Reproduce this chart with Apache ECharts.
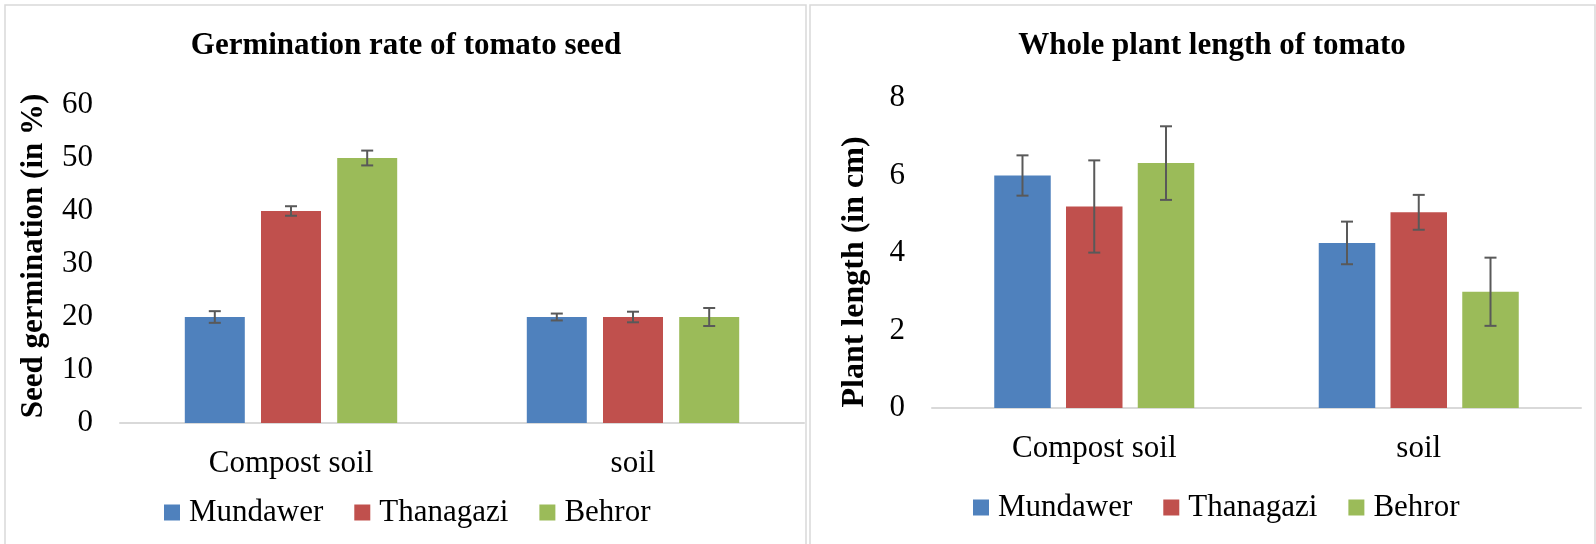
<!DOCTYPE html>
<html>
<head>
<meta charset="utf-8">
<script src="https://cdn.jsdelivr.net/npm/echarts@6/dist/echarts.min.js"></script>
<style>
  html, body { margin: 0; padding: 0; background: #fff; }
  #main { width: 1596px; height: 544px; }
</style>
</head>
<body>
<div id="main"></div>
<script>
var categories = ['Compost soil', 'soil'];
var seriesNames = ['Mundawer', 'Thanagazi', 'Behror'];
var colors = ['#4F81BD', '#C0504D', '#9BBB59'];

// germination rate (%)
var germMundawer = [20, 20];
var germThanagazi = [40, 20];
var germBehror = [50, 20];
var germErrMundawer = [1.1, 0.65];
var germErrThanagazi = [0.9, 1.0];
var germErrBehror = [1.4, 1.7];
var germTicks = { min: 0, max: 60, interval: 10 };

// whole plant length (cm)
var lenMundawer = [6.0, 4.26];
var lenThanagazi = [5.2, 5.05];
var lenBehror = [6.32, 3.0];
var lenErrMundawer = [0.52, 0.55];
var lenErrThanagazi = [1.19, 0.45];
var lenErrBehror = [0.95, 0.88];
var lenTicks = { min: 0, max: 8, interval: 2 };

var FONT = '"Liberation Serif", "Times New Roman", serif';

var chart = echarts.init(document.getElementById('main'));

function barSeries(name, data, idx, gridIdx, barW) {
  return {
    type: 'bar',
    name: name,
    xAxisIndex: gridIdx,
    yAxisIndex: gridIdx,
    data: data,
    barWidth: barW,
    barGap: '27%',
    itemStyle: { color: colors[idx] }
  };
}

function errorSeries(means, errs, idx, gridIdx, barW) {
  var gap = barW * 0.27;
  var data = means.map(function (m, i) {
    return [i, m - errs[i], m + errs[i]];
  });
  return {
    type: 'custom',
    xAxisIndex: gridIdx,
    yAxisIndex: gridIdx,
    data: data,
    encode: { x: 0, y: [1, 2] },
    z: 10,
    renderItem: function (params, api) {
      var cat = api.value(0);
      var x = api.coord([cat, 0])[0] + (idx - 1) * (barW + gap);
      var lo = api.coord([cat, api.value(1)])[1];
      var hi = api.coord([cat, api.value(2)])[1];
      var st = { stroke: '#595959', lineWidth: 2 };
      return {
        type: 'group',
        children: [
          { type: 'line', shape: { x1: x, y1: hi, x2: x, y2: lo }, style: st },
          { type: 'line', shape: { x1: x - 6, y1: hi, x2: x + 6, y2: hi }, style: st },
          { type: 'line', shape: { x1: x - 6, y1: lo, x2: x + 6, y2: lo }, style: st }
        ]
      };
    }
  };
}

function xAxisFor(gridIdx) {
  return {
    type: 'category',
    gridIndex: gridIdx,
    data: categories,
    axisLine: { lineStyle: { color: '#D9D9D9', width: 2 } },
    axisTick: { show: false },
    axisLabel: { color: '#000', fontFamily: FONT, fontSize: 31, margin: 25 }
  };
}

function yAxisFor(gridIdx, ticks) {
  return {
    type: 'value',
    gridIndex: gridIdx,
    min: ticks.min,
    max: ticks.max,
    interval: ticks.interval,
    axisLine: { show: false },
    axisTick: { show: false },
    splitLine: { show: false },
    axisLabel: { color: '#000', fontFamily: FONT, fontSize: 31, margin: 27 }
  };
}

function legendAt(left, top) {
  return {
    left: left,
    top: top,
    icon: 'rect',
    itemWidth: 16,
    itemHeight: 16,
    itemGap: 31,
    data: seriesNames,
    textStyle: { color: '#000', fontFamily: FONT, fontSize: 31, padding: [0, 0, 0, 4] }
  };
}

var option = {
  animation: false,
  backgroundColor: '#fff',
  graphic: [
    { type: 'rect', shape: { x: 5, y: 5, width: 801, height: 600 }, style: { fill: 'none', stroke: '#D9D9D9', lineWidth: 1.5 } },
    { type: 'rect', shape: { x: 810, y: 5, width: 785, height: 600 }, style: { fill: 'none', stroke: '#D9D9D9', lineWidth: 1.5 } },
    { type: 'text', x: 406, y: 46, style: { text: 'Germination rate of tomato seed', fontFamily: FONT, fontSize: 31, fontWeight: 'bold', fill: '#000', align: 'center', verticalAlign: 'middle' } },
    { type: 'text', x: 1212, y: 46, style: { text: 'Whole plant length of tomato', fontFamily: FONT, fontSize: 31, fontWeight: 'bold', fill: '#000', align: 'center', verticalAlign: 'middle' } },
    { type: 'text', x: 34, y: 256, rotation: Math.PI / 2, style: { text: 'Seed germination (in %)', fontFamily: FONT, fontSize: 31, fontWeight: 'bold', fill: '#000', align: 'center', verticalAlign: 'middle' } },
    { type: 'text', x: 855, y: 272, rotation: Math.PI / 2, style: { text: 'Plant length (in cm)', fontFamily: FONT, fontSize: 32, fontWeight: 'bold', fill: '#000', align: 'center', verticalAlign: 'middle' } }
  ],
  legend: [legendAt(159, 492), legendAt(968, 487)],
  grid: [
    { left: 120, top: 105, width: 684, height: 318 },
    { left: 932, top: 98, width: 649, height: 310 }
  ],
  xAxis: [xAxisFor(0), xAxisFor(1)],
  yAxis: [yAxisFor(0, germTicks), yAxisFor(1, lenTicks)],
  series: [
    barSeries('Mundawer', germMundawer, 0, 0, 60),
    barSeries('Thanagazi', germThanagazi, 1, 0, 60),
    barSeries('Behror', germBehror, 2, 0, 60),
    errorSeries(germMundawer, germErrMundawer, 0, 0, 60),
    errorSeries(germThanagazi, germErrThanagazi, 1, 0, 60),
    errorSeries(germBehror, germErrBehror, 2, 0, 60),
    barSeries('Mundawer', lenMundawer, 0, 1, 56.5),
    barSeries('Thanagazi', lenThanagazi, 1, 1, 56.5),
    barSeries('Behror', lenBehror, 2, 1, 56.5),
    errorSeries(lenMundawer, lenErrMundawer, 0, 1, 56.5),
    errorSeries(lenThanagazi, lenErrThanagazi, 1, 1, 56.5),
    errorSeries(lenBehror, lenErrBehror, 2, 1, 56.5)
  ]
};

chart.setOption(option);
</script>
</body>
</html>
